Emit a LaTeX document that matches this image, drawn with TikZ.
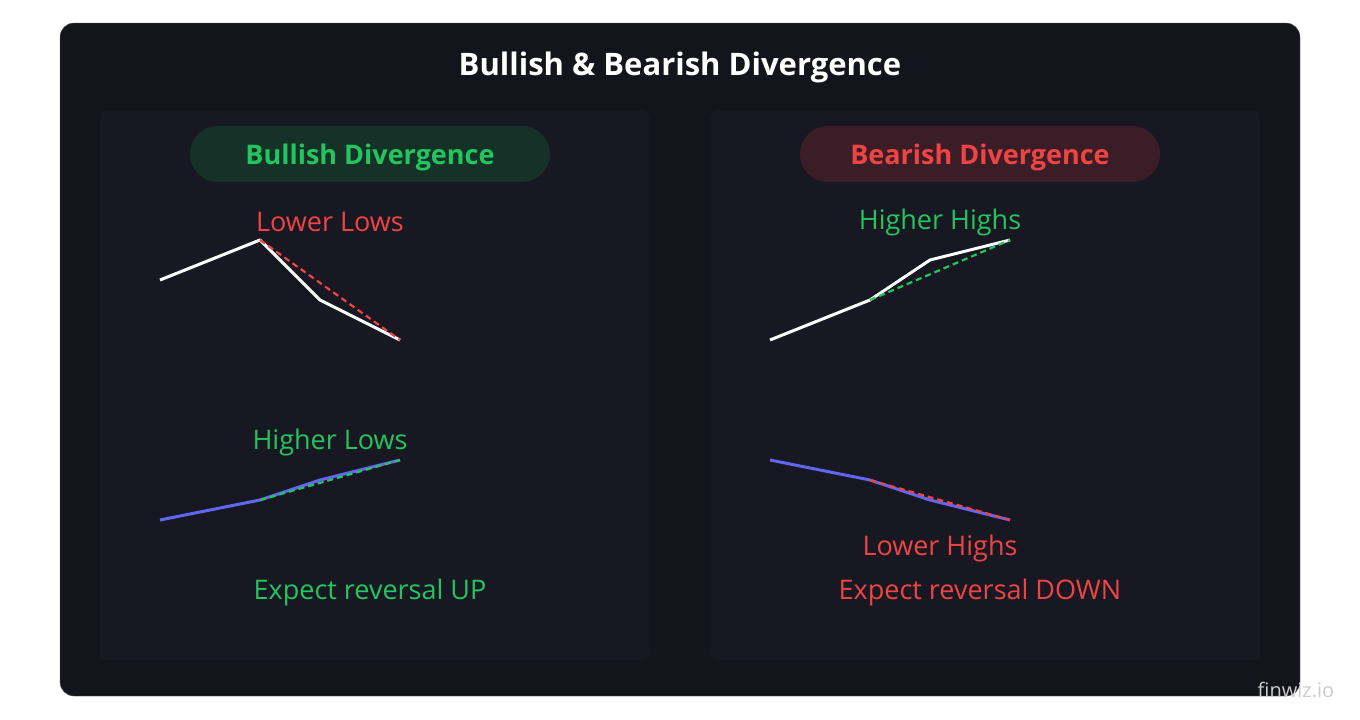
\documentclass[tikz,border=0pt]{standalone}
\usepackage{fontspec}
\setmainfont{Open Sans}
\definecolor{outerbg}{HTML}{14141C}
\definecolor{panelbg}{HTML}{181823}
\definecolor{gr}{HTML}{22C55E}
\definecolor{rd}{HTML}{EF4444}
\definecolor{bl}{HTML}{6366F1}
\definecolor{gpill}{HTML}{163228}
\definecolor{rpill}{HTML}{3A1D26}
\begin{document}
\begin{tikzpicture}[x=1pt,y=-1pt,
  panel/.style={fill=panelbg,rounded corners=8pt},
  pill/.style={rounded corners=28pt,minimum width=360pt,minimum height=56pt,font=\fontsize{27}{32}\selectfont\bfseries},
  lbl/.style={font=\fontsize{27}{32}\selectfont},
  price/.style={white,line width=3pt},
  osc/.style={bl,line width=3pt},
  trend/.style={dashed,line width=2.2pt,dash pattern=on 6pt off 4pt}]
\useasboundingbox (0,0) rectangle (1360,720);
\fill[white] (0,0) rectangle (1360,720);
\draw[fill=outerbg,draw=black!60,rounded corners=14pt] (60,23) rectangle (1300,696);
\fill[panel] (100,110) rectangle (650,660);
\fill[panel] (710,110) rectangle (1260,660);
\node[white,font=\fontsize{31}{36}\selectfont\bfseries] (title) at (680,67) {Bullish \& Bearish Divergence};
\node[pill,fill=gpill,text=gr] (bullpill) at (370,154) {};
\node[gr,font=\fontsize{27}{32}\selectfont\bfseries] at (370,157) {Bullish Divergence};
\node[pill,fill=rpill,text=rd] (bearpill) at (980,154) {};
\node[rd,font=\fontsize{27}{32}\selectfont\bfseries] at (980,157) {Bearish Divergence};
% left
\node[lbl,rd] (ll) at (330,222) {Lower Lows};
\coordinate (a1) at (160,280); \coordinate (a2) at (260,240); \coordinate (a3) at (320,300); \coordinate (a4) at (400,340);
\draw[price,line join=round] (a1)--(a2)--(a3)--(a4);
\draw[trend,rd] (a2)--(a4);
\node[lbl,gr] (hl) at (330,442) {Higher Lows};
\coordinate (b1) at (160,520); \coordinate (b2) at (260,500); \coordinate (b3) at (320,480); \coordinate (b4) at (400,460);
\draw[osc,line join=round] (b1)--(b2)--(b3)--(b4);
\draw[trend,gr] (b2)--(b4);
\node[lbl,gr] (up) at (370,592) {Expect reversal UP};
% right
\node[lbl,gr] (hh) at (940,222) {Higher Highs};
\coordinate (c1) at (770,340); \coordinate (c2) at (870,300); \coordinate (c3) at (930,260); \coordinate (c4) at (1010,240);
\draw[price,line join=round] (c1)--(c2)--(c3)--(c4);
\draw[trend,gr] (c2)--(c4);
\coordinate (d1) at (770,460); \coordinate (d2) at (870,480); \coordinate (d3) at (930,500); \coordinate (d4) at (1010,520);
\draw[osc,line join=round] (d1)--(d2)--(d3)--(d4);
\draw[trend,rd] (d2)--(d4);
\node[lbl,rd] (lh) at (940,548) {Lower Highs};
\node[lbl,rd] (down) at (980,592) {Expect reversal DOWN};
\node[black!20,font=\fontsize{20}{24}\selectfont] (wm) at (1296,690) {finwiz.io};
\end{tikzpicture}
\end{document}
